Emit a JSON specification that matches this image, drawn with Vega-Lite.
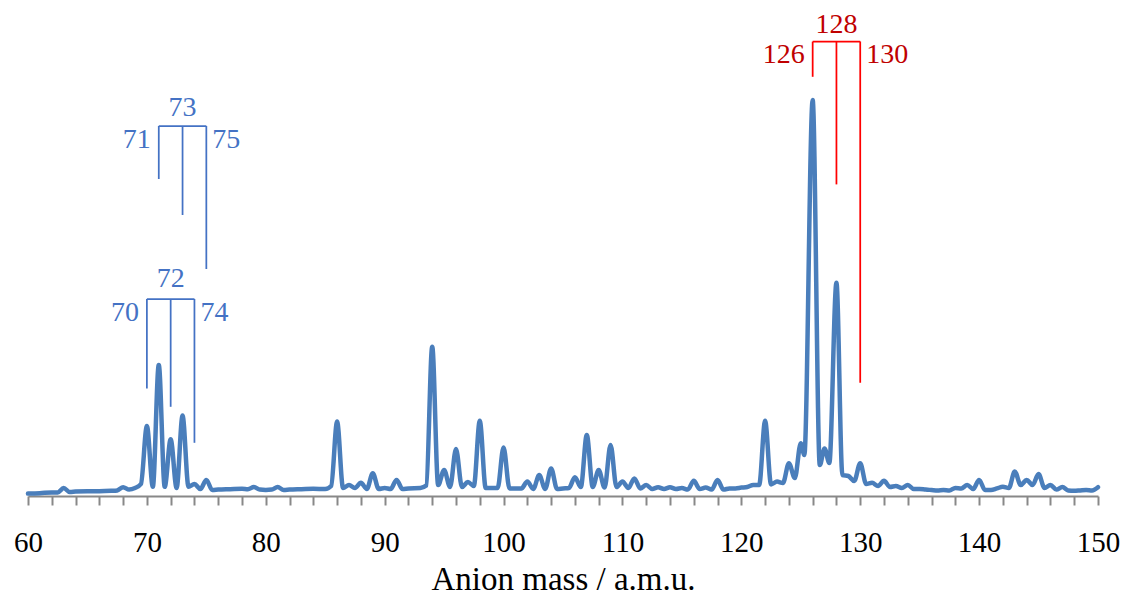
{
  "$schema": "https://vega.github.io/schema/vega-lite/v6.json",
  "width": 1070,
  "height": 496,
  "autosize": {"type": "none"},
  "padding": {"left": 28, "right": 29, "top": 0, "bottom": 105},
  "background": "white",
  "config": {"view": {"stroke": null}, "font": "Liberation Serif"},
  "datasets": {
    "spectrum": [
      {"mass":60,"intensity":0.6},{"mass":61,"intensity":0.7},{"mass":62,"intensity":0.9},{"mass":62.5,"intensity":0.9},{"mass":63,"intensity":2.0},{"mass":63.5,"intensity":1.0},{"mass":64,"intensity":1.1},{"mass":65,"intensity":1.2},{"mass":66,"intensity":1.2},{"mass":67,"intensity":1.3},{"mass":67.5,"intensity":1.4},{"mass":68,"intensity":2.2},{"mass":68.5,"intensity":1.6},{"mass":69,"intensity":2.0},{"mass":69.5,"intensity":3.0},
      {"mass":70,"intensity":17.5},{"mass":70.5,"intensity":2.3},{"mass":71,"intensity":32.75},{"mass":71.5,"intensity":2.3},{"mass":72,"intensity":14.2},{"mass":72.5,"intensity":2.0},{"mass":73,"intensity":20.1},{"mass":73.5,"intensity":2.3},{"mass":74,"intensity":3.0},{"mass":74.5,"intensity":1.75},{"mass":75,"intensity":4.0},{"mass":75.5,"intensity":1.5},{"mass":76,"intensity":1.6},{"mass":77,"intensity":1.7},{"mass":78,"intensity":1.8},{"mass":78.5,"intensity":1.7},{"mass":79,"intensity":2.25},{"mass":79.5,"intensity":1.6},
      {"mass":80,"intensity":1.5},{"mass":80.5,"intensity":1.6},{"mass":81,"intensity":2.25},{"mass":81.5,"intensity":1.5},{"mass":82,"intensity":1.6},{"mass":83,"intensity":1.7},{"mass":84,"intensity":1.8},{"mass":85,"intensity":1.75},{"mass":85.5,"intensity":2.5},{"mass":86,"intensity":18.6},{"mass":86.5,"intensity":2.0},{"mass":87,"intensity":2.75},{"mass":87.5,"intensity":2.0},{"mass":88,"intensity":3.3},{"mass":88.5,"intensity":1.75},{"mass":89,"intensity":5.7},{"mass":89.5,"intensity":1.75},
      {"mass":90,"intensity":2.0},{"mass":90.5,"intensity":1.75},{"mass":91,"intensity":4.0},{"mass":91.5,"intensity":1.75},{"mass":92,"intensity":1.9},{"mass":93,"intensity":2.0},{"mass":93.5,"intensity":2.6},{"mass":94,"intensity":37.3},{"mass":94.5,"intensity":2.75},{"mass":95,"intensity":6.5},{"mass":95.5,"intensity":2.25},{"mass":96,"intensity":11.75},{"mass":96.5,"intensity":2.25},{"mass":97,"intensity":3.5},{"mass":97.5,"intensity":2.5},{"mass":98,"intensity":18.8},{"mass":98.5,"intensity":2.0},{"mass":99,"intensity":2.0},{"mass":99.5,"intensity":2.0},
      {"mass":100,"intensity":12.1},{"mass":100.5,"intensity":1.9},{"mass":101,"intensity":1.9},{"mass":101.5,"intensity":1.9},{"mass":102,"intensity":3.6},{"mass":102.5,"intensity":1.75},{"mass":103,"intensity":5.25},{"mass":103.5,"intensity":1.75},{"mass":104,"intensity":6.9},{"mass":104.5,"intensity":1.75},{"mass":105,"intensity":1.9},{"mass":105.5,"intensity":2.0},{"mass":106,"intensity":4.7},{"mass":106.5,"intensity":2.25},{"mass":107,"intensity":15.25},{"mass":107.5,"intensity":2.25},{"mass":108,"intensity":6.5},{"mass":108.5,"intensity":2.1},{"mass":109,"intensity":12.75},{"mass":109.5,"intensity":2.25},
      {"mass":110,"intensity":3.6},{"mass":110.5,"intensity":2.0},{"mass":111,"intensity":4.4},{"mass":111.5,"intensity":1.9},{"mass":112,"intensity":2.75},{"mass":112.5,"intensity":1.75},{"mass":113,"intensity":2.2},{"mass":113.5,"intensity":1.75},{"mass":114,"intensity":2.2},{"mass":114.5,"intensity":1.75},{"mass":115,"intensity":2.0},{"mass":115.5,"intensity":1.6},{"mass":116,"intensity":3.8},{"mass":116.5,"intensity":1.75},{"mass":117,"intensity":2.1},{"mass":117.5,"intensity":1.6},{"mass":118,"intensity":4.0},{"mass":118.5,"intensity":1.6},{"mass":119,"intensity":1.9},{"mass":119.5,"intensity":1.9},
      {"mass":120,"intensity":2.1},{"mass":120.5,"intensity":2.25},{"mass":121,"intensity":2.75},{"mass":121.5,"intensity":2.75},{"mass":122,"intensity":18.8},{"mass":122.5,"intensity":2.9},{"mass":123,"intensity":3.6},{"mass":123.5,"intensity":3.25},{"mass":124,"intensity":8.2},{"mass":124.5,"intensity":4.5},{"mass":125,"intensity":13.2},{"mass":125.3,"intensity":10.25},{"mass":126,"intensity":99},{"mass":126.6,"intensity":7.75},{"mass":127,"intensity":11.9},{"mass":127.4,"intensity":8.25},{"mass":128,"intensity":53.3},{"mass":128.5,"intensity":5.25},{"mass":129,"intensity":5.0},{"mass":129.5,"intensity":3.75},
      {"mass":130,"intensity":8.2},{"mass":130.5,"intensity":3.0},{"mass":131,"intensity":3.3},{"mass":131.5,"intensity":2.5},{"mass":132,"intensity":3.8},{"mass":132.5,"intensity":2.25},{"mass":133,"intensity":2.5},{"mass":133.5,"intensity":2.0},{"mass":134,"intensity":2.75},{"mass":134.5,"intensity":1.75},{"mass":135,"intensity":1.75},{"mass":135.5,"intensity":1.6},{"mass":136,"intensity":1.5},{"mass":136.5,"intensity":1.4},{"mass":137,"intensity":1.5},{"mass":137.5,"intensity":1.4},{"mass":138,"intensity":2.0},{"mass":138.5,"intensity":1.9},{"mass":139,"intensity":2.75},{"mass":139.5,"intensity":1.75},
      {"mass":140,"intensity":4.0},{"mass":140.5,"intensity":1.5},{"mass":141,"intensity":1.5},{"mass":141.5,"intensity":1.9},{"mass":142,"intensity":2.3},{"mass":142.5,"intensity":2.0},{"mass":143,"intensity":6.1},{"mass":143.5,"intensity":2.75},{"mass":144,"intensity":4.0},{"mass":144.5,"intensity":2.75},{"mass":145,"intensity":5.5},{"mass":145.5,"intensity":2.0},{"mass":146,"intensity":2.75},{"mass":146.5,"intensity":1.6},{"mass":147,"intensity":2.25},{"mass":147.5,"intensity":1.4},{"mass":148,"intensity":1.3},{"mass":148.5,"intensity":1.4},{"mass":149,"intensity":1.5},{"mass":149.5,"intensity":1.4},{"mass":150,"intensity":2.2}
    ],
    "vlines": [
      {"mass":71,"top":92.5,"bottom":79.25,"group":"blue"},
      {"mass":73,"top":92.5,"bottom":70.25,"group":"blue"},
      {"mass":75,"top":92.5,"bottom":56.75,"group":"blue"},
      {"mass":70,"top":49.25,"bottom":26.9,"group":"blue"},
      {"mass":72,"top":49.25,"bottom":22.3,"group":"blue"},
      {"mass":74,"top":49.25,"bottom":13.3,"group":"blue"},
      {"mass":126,"top":113.6,"bottom":104.8,"group":"red"},
      {"mass":128,"top":113.6,"bottom":77.9,"group":"red"},
      {"mass":130,"top":113.6,"bottom":28.3,"group":"red"}
    ],
    "hlines": [
      {"from":71,"to":75,"level":92.5,"group":"blue"},
      {"from":70,"to":74,"level":49.25,"group":"blue"},
      {"from":126,"to":130,"level":113.6,"group":"red"}
    ],
    "labels": [
      {"text":"73","mass":73,"level":96.9,"side":"top","group":"blue"},
      {"text":"71","mass":71,"level":89,"side":"left","group":"blue"},
      {"text":"75","mass":75,"level":89,"side":"right","group":"blue"},
      {"text":"72","mass":72,"level":54.25,"side":"top","group":"blue"},
      {"text":"70","mass":70,"level":45.75,"side":"left","group":"blue"},
      {"text":"74","mass":74,"level":45.75,"side":"right","group":"blue"},
      {"text":"128","mass":128,"level":117.75,"side":"top","group":"red"},
      {"text":"126","mass":126,"level":110.25,"side":"left","group":"red"},
      {"text":"130","mass":130,"level":110.25,"side":"right","group":"red"}
    ]
  },
  "layer": [
    {
      "data": {"name": "spectrum"},
      "mark": {"type": "line", "color": "#4a7ebb", "strokeWidth": 4.5, "strokeJoin": "round", "strokeCap": "round", "interpolate": "monotone"},
      "encoding": {
        "x": {"field": "mass", "type": "quantitative",
          "scale": {"domain": [60, 150], "nice": false, "zero": false},
          "axis": {
            "orient": "bottom",
            "title": "Anion mass / a.m.u.",
            "values": [60,70,80,90,100,110,120,130,140,150],
            "grid": false,
            "domainColor": "#888888", "domainWidth": 2,
            "tickColor": "#888888", "tickWidth": 2, "tickSize": 9,
            "labelFont": "Liberation Serif", "labelFontSize": 29, "labelColor": "#000000",
            "labelPadding": 23, "labelFlush": false, "labelOverlap": false,
            "titleFont": "Liberation Serif", "titleFontSize": 33, "titleFontWeight": "normal", "titleColor": "#000000",
            "titlePadding": 6
          }},
        "y": {"field": "intensity", "type": "quantitative",
          "scale": {"domain": [0, 124], "nice": false}, "axis": null}
      }
    },
    {
      "data": {"name": "vlines"},
      "mark": {"type": "rule", "strokeWidth": 1.75},
      "encoding": {
        "x": {"field": "mass", "type": "quantitative",
          "axis": {
            "orient": "bottom",
            "title": null,
            "values": [62,64,66,68,72,74,76,78,82,84,86,88,92,94,96,98,102,104,106,108,112,114,116,118,122,124,126,128,132,134,136,138,142,144,146,148],
            "labels": false, "grid": false, "domain": false,
            "tickColor": "#888888", "tickWidth": 2, "tickSize": 9
          }},
        "y": {"field": "top", "type": "quantitative"},
        "y2": {"field": "bottom"},
        "color": {"field": "group", "type": "nominal", "scale": {"domain": ["blue","red"], "range": ["#4472c4","#ff0000"]}, "legend": null}
      }
    },
    {
      "data": {"name": "hlines"},
      "mark": {"type": "rule", "strokeWidth": 1.75},
      "encoding": {
        "x": {"field": "from", "type": "quantitative", "axis": null},
        "x2": {"field": "to"},
        "y": {"field": "level", "type": "quantitative"},
        "color": {"field": "group", "type": "nominal", "scale": {"domain": ["blue","red"], "range": ["#4472c4","#ff0000"]}, "legend": null}
      }
    },
    {
      "data": {"name": "labels"},
      "transform": [{"filter": "datum.side === 'top'"}],
      "mark": {"type": "text", "align": "center", "baseline": "middle", "font": "Liberation Serif", "fontSize": 28},
      "encoding": {
        "x": {"field": "mass", "type": "quantitative", "axis": null},
        "y": {"field": "level", "type": "quantitative"},
        "text": {"field": "text"},
        "color": {"field": "group", "type": "nominal", "scale": {"domain": ["blue","red"], "range": ["#4472c4","#c00000"]}, "legend": null}
      }
    },
    {
      "data": {"name": "labels"},
      "transform": [{"filter": "datum.side === 'left'"}],
      "mark": {"type": "text", "align": "right", "baseline": "middle", "dx": -8, "font": "Liberation Serif", "fontSize": 28},
      "encoding": {
        "x": {"field": "mass", "type": "quantitative", "axis": null},
        "y": {"field": "level", "type": "quantitative"},
        "text": {"field": "text"},
        "color": {"field": "group", "type": "nominal", "scale": {"domain": ["blue","red"], "range": ["#4472c4","#c00000"]}, "legend": null}
      }
    },
    {
      "data": {"name": "labels"},
      "transform": [{"filter": "datum.side === 'right'"}],
      "mark": {"type": "text", "align": "left", "baseline": "middle", "dx": 6, "font": "Liberation Serif", "fontSize": 28},
      "encoding": {
        "x": {"field": "mass", "type": "quantitative", "axis": null},
        "y": {"field": "level", "type": "quantitative"},
        "text": {"field": "text"},
        "color": {"field": "group", "type": "nominal", "scale": {"domain": ["blue","red"], "range": ["#4472c4","#c00000"]}, "legend": null}
      }
    }
  ],
  "resolve": {"scale": {"color": "independent"}, "axis": {"x": "independent"}}
}
